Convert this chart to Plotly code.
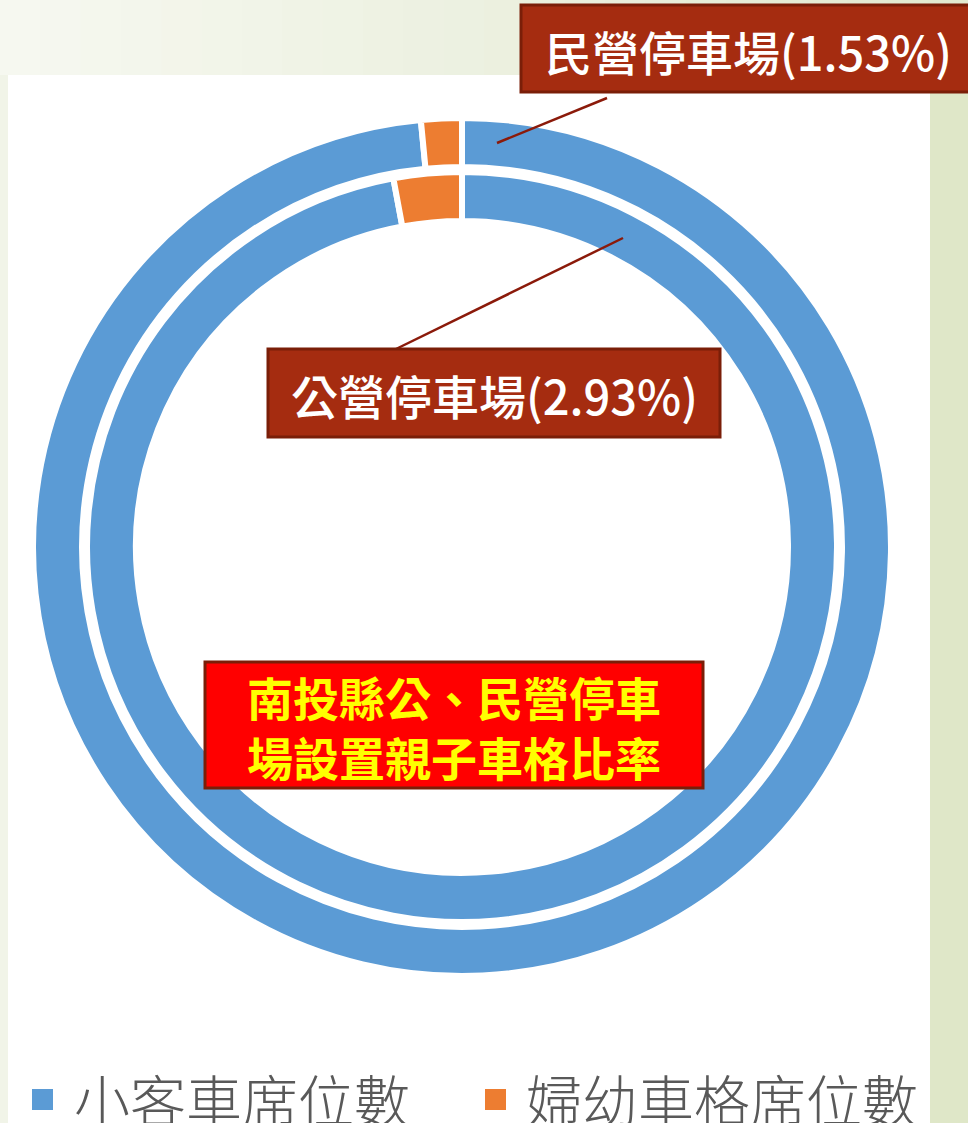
import plotly.graph_objects as go

W, H = 968, 1123

# ---- data ----
legend_labels = ["小客車席位數", "婦幼車格席位數"]
private_values = [98.47, 1.53]   # 民營停車場 (outer ring)
public_values = [97.07, 2.93]    # 公營停車場 (inner ring)
private_label = "民營停車場(1.53%)"
public_label = "公營停車場(2.93%)"
title_lines = ["南投縣公、民營停車", "場設置親子車格比率"]

colors = ["#5b9bd5", "#ed7d31"]


def px(x):
    return x / W


def py(y):
    return 1 - y / H


cx, cy = 462, 547


def dom(r):
    return dict(x=[px(cx - r), px(cx + r)], y=[py(cy + r), py(cy - r)])


fig = go.Figure()
fig.add_trace(go.Pie(
    labels=legend_labels, values=private_values, sort=False, direction="clockwise",
    rotation=0, hole=380 / 429, domain=dom(429), textinfo="none", hoverinfo="label+percent",
    marker=dict(colors=colors, line=dict(color="white", width=6)), name="民營停車場",
    showlegend=False,
))
fig.add_trace(go.Pie(
    labels=legend_labels, values=public_values, sort=False, direction="clockwise",
    rotation=0, hole=326 / 375, domain=dom(375), textinfo="none", hoverinfo="label+percent",
    marker=dict(colors=colors, line=dict(color="white", width=6)), name="公營停車場",
    showlegend=False,
))

shapes = []
# top gradient band
n = 24
c0 = (246, 248, 240)
c1 = (226, 233, 208)
for i in range(n):
    t = i / (n - 1)
    col = "rgb(%d,%d,%d)" % tuple(round(a + (b - a) * t) for a, b in zip(c0, c1))
    shapes.append(dict(type="rect", xref="paper", yref="paper", x0=px(i * W / n), x1=px((i + 1) * W / n + 1),
                       y0=py(76), y1=1, fillcolor=col, line=dict(width=0), layer="below"))
# left strip
shapes.append(dict(type="rect", xref="paper", yref="paper", x0=0, x1=px(8), y0=0, y1=py(75),
                   fillcolor="#f1f4e8", line=dict(width=0), layer="below"))
# right strip
shapes.append(dict(type="rect", xref="paper", yref="paper", x0=px(930), x1=1, y0=0, y1=py(75),
                   fillcolor="#dfe7c8", line=dict(width=0), layer="below"))
# white chart area
shapes.append(dict(type="rect", xref="paper", yref="paper", x0=px(8), x1=px(930), y0=0, y1=py(75),
                   fillcolor="white", line=dict(width=0), layer="below"))

# leader lines
shapes.append(dict(type="line", xref="paper", yref="paper", x0=px(607), y0=py(98), x1=px(497), y1=py(143),
                   line=dict(color="#8b1a0a", width=2.5), layer="above"))
shapes.append(dict(type="line", xref="paper", yref="paper", x0=px(396), y0=py(349), x1=px(623), y1=py(238),
                   line=dict(color="#8b1a0a", width=2.5), layer="above"))

# label boxes
shapes.append(dict(type="rect", xref="paper", yref="paper", x0=px(521), x1=px(975), y0=py(92), y1=py(5),
                   fillcolor="#a52c10", line=dict(color="#7a1e08", width=3), layer="above"))
shapes.append(dict(type="rect", xref="paper", yref="paper", x0=px(268), x1=px(720), y0=py(437), y1=py(349),
                   fillcolor="#a52c10", line=dict(color="#7a1e08", width=3), layer="above"))
shapes.append(dict(type="rect", xref="paper", yref="paper", x0=px(205), x1=px(703), y0=py(788), y1=py(662),
                   fillcolor="#ff0000", line=dict(color="#7a1e08", width=3), layer="above"))

# legend squares
legend_sq_x = [32, 485]
legend_tx_x = [72, 524]
for c, sx in zip(colors, legend_sq_x):
    shapes.append(dict(type="rect", xref="paper", yref="paper", x0=px(sx), x1=px(sx + 21),
                       y0=py(1110), y1=py(1089), fillcolor=c, line=dict(width=0), layer="above"))

label_font = dict(family="Noto Sans CJK TC", size=47, color="white", weight=500)
annotations = [
    dict(text=private_label, x=px(748), y=py(50), xref="paper", yref="paper", showarrow=False,
         font=label_font, xanchor="center", yanchor="middle"),
    dict(text=public_label, x=px(494), y=py(394), xref="paper", yref="paper", showarrow=False,
         font=label_font, xanchor="center", yanchor="middle"),
    dict(text="<br>".join(title_lines), x=px(454), y=py(726), xref="paper", yref="paper", showarrow=False,
         font=dict(family="Noto Sans CJK TC", size=46, color="#ffff00", weight="bold"),
         xanchor="center", yanchor="middle", align="center"),
]
for lab, tx in zip(legend_labels, legend_tx_x):
    annotations.append(dict(text=lab, x=px(tx), y=py(1097), xref="paper", yref="paper", showarrow=False,
                            font=dict(family="Noto Sans CJK TC", size=56, color="#595959", weight=300),
                            xanchor="left", yanchor="middle"))

fig.update_layout(
    width=W, height=H, margin=dict(l=0, r=0, t=0, b=0, autoexpand=False),
    paper_bgcolor="#eaf0dc", plot_bgcolor="white",
    shapes=shapes, annotations=annotations,
    showlegend=False,
)

fig.write_html("out.html", config={"displayModeBar": False},
               post_script="document.body.style.margin='0';document.body.style.padding='0';document.body.style.overflow='hidden';")
